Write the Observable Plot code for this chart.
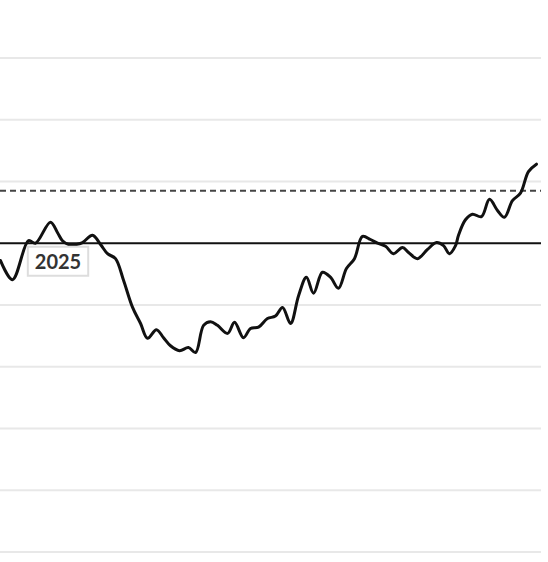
<!DOCTYPE html>
<html>
<head>
<meta charset="utf-8">
<script src="https://cdn.jsdelivr.net/npm/d3@7"></script>
<script src="https://cdn.jsdelivr.net/npm/@observablehq/plot@0.6"></script>
<style>
  html, body { margin: 0; padding: 0; background: #fff; }
  #chart svg { display: block; }
</style>
</head>
<body>
<div id="chart"></div>
<script>
// Day of year for each reading
const days = [0, 8.1, 18.9, 23.6, 33.7, 38.5, 41.8, 45.9, 51.3, 55.3, 62.1, 67.5, 72.2, 77.6, 83.0, 89.1, 94.5, 99.2, 105.2, 110.0, 114.7, 120.8, 126.8, 131.6, 137.0, 141.7, 146.4, 153.2, 157.9, 163.9, 168.7, 174.1, 180.1, 185.5, 190.3, 195.7, 201.1, 206.4, 211.2, 217.2, 222.6, 228.0, 233.4, 238.8, 244.2, 249.6, 254.4, 259.8, 265.1, 271.2, 275.3, 281.3, 288.1, 294.2, 298.9, 302.9, 307.0, 309.0, 313.7, 318.4, 324.5, 329.9, 335.3, 340.0, 345.4, 350.8, 356.2, 361.6];
// Series values (2025)
const values = [-0.28, -0.59, 0.04, 0.00, 0.34, 0.17, 0.04, -0.02, -0.02, 0.01, 0.13, -0.02, -0.17, -0.25, -0.60, -1.04, -1.30, -1.54, -1.40, -1.53, -1.66, -1.74, -1.69, -1.77, -1.33, -1.27, -1.33, -1.46, -1.28, -1.53, -1.38, -1.36, -1.22, -1.18, -1.04, -1.30, -0.85, -0.55, -0.81, -0.47, -0.55, -0.73, -0.41, -0.25, 0.11, 0.06, 0.00, -0.05, -0.17, -0.07, -0.15, -0.25, -0.10, 0.01, -0.04, -0.17, -0.04, 0.13, 0.38, 0.47, 0.43, 0.71, 0.53, 0.42, 0.69, 0.81, 1.16, 1.28];
// Horizontal gridline values
const gridTicks = [3, 2, 1, -1, -2, -3, -4, -5];
const baseline = [0];
const reference = [0.85];
// Series label
const labelText = ["2025"];
const labelDay = [38.8];
const labelValue = [-0.31];

const data = days.map((d, i) => ({day: d, value: values[i]}));
const labels = labelText.map((t, i) => ({text: t, day: labelDay[i], value: labelValue[i]}));

const chart = Plot.plot({
  width: 548,
  height: 562,
  marginTop: 0,
  marginBottom: 0,
  marginLeft: 0,
  marginRight: 7,
  x: {domain: [0, 365], axis: null},
  y: {domain: [-5.17, 3.93], axis: null},
  marks: [
    Plot.ruleY(gridTicks, {stroke: "#e8e8e8", strokeWidth: 2}),
    Plot.ruleY(reference, {stroke: "#444", strokeWidth: 2, strokeDasharray: "6,4"}),
    Plot.ruleY(baseline, {stroke: "#111", strokeWidth: 2}),
    Plot.line(data, {x: "day", y: "value", stroke: "#111", strokeWidth: 3, curve: "catmull-rom", strokeLinejoin: "round", strokeLinecap: "round"}),
    Plot.text(labels, {x: "day", y: "value", text: "text", fill: "#333", fontSize: 20, fontWeight: "bold", fontFamily: "Lato, 'Open Sans', sans-serif", className: "series-label"})
  ]
});

document.getElementById("chart").appendChild(chart);

// Draw a box behind each series label (same transform as the text)
d3.select(chart).selectAll(".series-label text").each(function() {
  const bb = this.getBBox();
  const padX = 7, padY = 3;
  const t = this.getAttribute("transform");
  const r = d3.select(this.parentNode).insert("rect", () => this)
    .attr("x", bb.x - padX)
    .attr("y", bb.y - padY + 1)
    .attr("width", bb.width + 2 * padX)
    .attr("height", bb.height + 2 * padY - 1)
    .attr("fill", "#fff")
    .attr("stroke", "#ddd")
    .attr("stroke-width", 2);
  if (t) r.attr("transform", t);
});
</script>
</body>
</html>
